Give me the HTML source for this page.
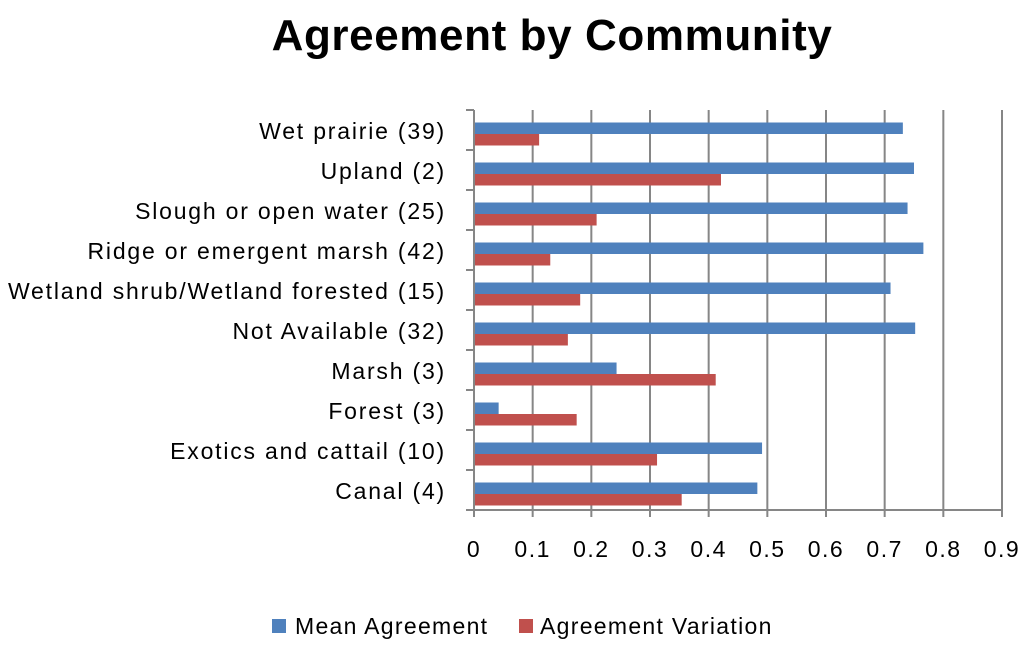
<!DOCTYPE html>
<html><head><meta charset="utf-8"><style>
body{margin:0;background:#fff;}
svg text{font-family:"Liberation Sans",sans-serif;fill:#000;}
</style></head><body>
<svg id="c" width="1024" height="649" xmlns="http://www.w3.org/2000/svg">
<text x="552" y="50" text-anchor="middle" font-size="44" font-weight="bold" letter-spacing="0.6">Agreement by Community</text>
<g id="grid"></g><g id="bars"></g><g id="axes"></g>
<g>
<rect x="272" y="619" width="14" height="14" fill="#4f81bd"/>
<text x="295" y="634" font-size="23" letter-spacing="1.3">Mean Agreement</text>
<rect x="519" y="619" width="14" height="14" fill="#c0504d"/>
<text x="540" y="634" font-size="23" letter-spacing="1.3">Agreement Variation</text>
</g>
</svg>
<script>
const categories=["Wet prairie (39)","Upland (2)","Slough or open water (25)","Ridge or emergent marsh (42)","Wetland shrub/Wetland forested (15)","Not Available (32)","Marsh (3)","Forest (3)","Exotics and cattail (10)","Canal (4)"];
const meanAgreement=[0.731,0.750,0.739,0.766,0.710,0.752,0.243,0.042,0.491,0.483];
const agreementVariation=[0.111,0.421,0.209,0.130,0.181,0.160,0.412,0.175,0.312,0.354];
const xTicks=[0,0.1,0.2,0.3,0.4,0.5,0.6,0.7,0.8,0.9];
const X0=474,X1=1002,Y0=110,Y1=510,NS="http://www.w3.org/2000/svg";
const xs=v=>X0+(v/0.9)*(X1-X0);
const band=(Y1-Y0)/categories.length;
const ys=i=>Y0+i*band;
function mk(t,a,p){const e=document.createElementNS(NS,t);for(const k in a)e.setAttribute(k,a[k]);p.appendChild(e);return e;}
const g=document.getElementById('grid'),b=document.getElementById('bars'),ax=document.getElementById('axes');
xTicks.forEach((t,i)=>{
 if(i>0){const l=mk('line',{x1:xs(t),x2:xs(t),y1:Y0,y2:Y1+7,stroke:'#868686','stroke-width':2},g);
 
 }
 const tx=mk('text',{x:xs(t),y:557,'text-anchor':'middle','font-size':23,'letter-spacing':1.5},ax);tx.textContent=String(t);
 
 
});
categories.forEach((c,i)=>{
 const y=ys(i);
 const r1=mk('rect',{x:X0,y:y+12.5,width:xs(meanAgreement[i])-X0,height:11.5,fill:'#4f81bd'},b);
 
 
 const r2=mk('rect',{x:X0,y:y+24,width:xs(agreementVariation[i])-X0,height:11.5,fill:'#c0504d'},b);
 
 
 const t=mk('text',{x:446,y:y+29,'text-anchor':'end','font-size':23,'letter-spacing':1.8},ax);t.textContent=c;
 
 
});
for(let i=0;i<=categories.length;i++){
 const tk=mk('line',{x1:X0-8,x2:X0,y1:ys(i),y2:ys(i),stroke:'#868686','stroke-width':2},ax);
 
 
}
const ya=mk('line',{x1:X0,x2:X0,y1:Y0,y2:Y1+7,stroke:'#868686','stroke-width':2},ax);


const xa=mk('line',{x1:X0-8,x2:X1+1,y1:Y1,y2:Y1,stroke:'#868686','stroke-width':2},ax);


</script>
</body></html>
